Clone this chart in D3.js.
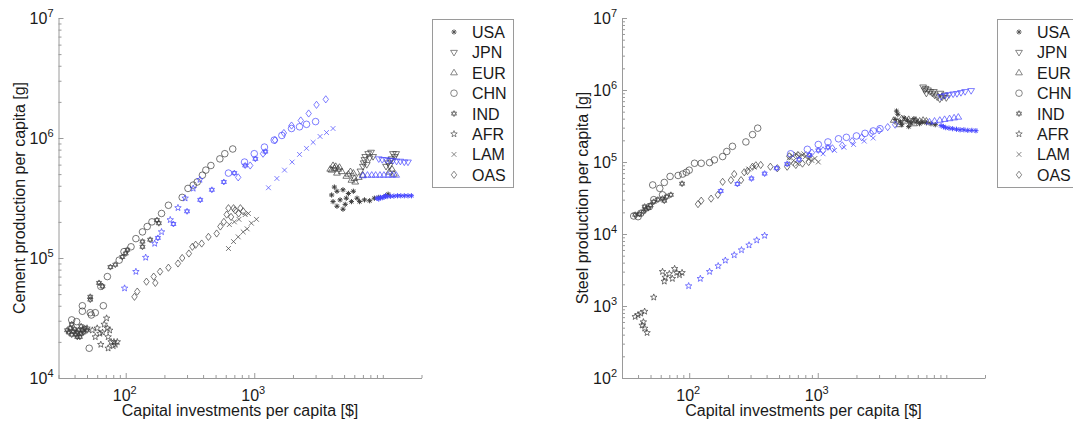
<!DOCTYPE html>
<html>
<head>
<meta charset="utf-8">
<script src="https://cdn.jsdelivr.net/npm/d3@7"></script>
<style>
  html, body { margin: 0; padding: 0; background: #fff; }
  svg { display: block; font-family: "Liberation Sans", Arial, sans-serif; }
</style>
</head>
<body>
<svg id="chart" width="1073" height="425"></svg>
<script>
// ---------------- DATA ----------------
const regions = ["USA", "JPN", "EUR", "CHN", "IND", "AFR", "LAM", "OAS"];
const xTitle = "Capital investments per capita [$]";
const cementTitle = "Cement production per capita [g]";
const steelTitle = "Steel production per capita [g]";
const xDomain = [30, 20000];
const xTickLabels = [100, 1000];
const cementYDomain = [1e4, 1e7];
const steelYDomain = [1e2, 1e7];

// Cement: historical (black) and projected (blue), [investment $, production g]
const cementUSA = [[4000,3.35e5],[4400,3.6e5],[4900,3.7e5],[5400,3.45e5],[5900,3.6e5],[4100,2.95e5],[4650,3.05e5],[5200,3.15e5],[5700,2.95e5],[4900,2.55e5],[4400,2.7e5],[4200,3.9e5],[5100,2.8e5],[6300,3.15e5],[6600,2.95e5],[7200,3.05e5],[7900,3.0e5],[8600,3.15e5],[9300,3.2e5],[11000,3.4e5],[10500,3.3e5]];
const cementUSAproj = [[9000,3.15e5],[9300,3.1e5],[9600,3.2e5],[9900,3.18e5],[10200,3.22e5],[10500,3.3e5],[10800,3.25e5],[11500,3.27e5],[12200,3.28e5],[13000,3.3e5],[13800,3.3e5],[14700,3.3e5],[15700,3.3e5],[16700,3.3e5]];
const cementJPN = [[6700,5.3e5],[7000,5.8e5],[7100,6.2e5],[7200,6.6e5],[7300,7.0e5],[7700,7.4e5],[8100,7.6e5],[8400,7.0e5],[7900,6.8e5],[7500,6.0e5],[10600,5.8e5],[11000,6.2e5],[11300,5.9e5],[11700,6.7e5],[12000,7.4e5],[12700,7.4e5],[12400,7.0e5],[11500,6.5e5]];
const cementJPNproj = [[9300,6.7e5],[9900,6.6e5],[10600,6.6e5],[11300,6.5e5],[12000,6.5e5],[12800,6.4e5],[13700,6.4e5],[14700,6.3e5],[15700,6.3e5]];
const cementEUR = [[3900,5.5e5],[4000,5.4e5],[4100,5.9e5],[4200,5.6e5],[4300,5.8e5],[4400,5.1e5],[4500,5.5e5],[4600,5.7e5],[4800,5.25e5],[5200,4.8e5],[5400,5.0e5],[5600,5.25e5],[5700,4.45e5],[5900,5.1e5],[6100,4.3e5],[6000,4.6e5],[6500,4.7e5],[7000,4.9e5],[11200,5.2e5],[11800,5.5e5],[12200,5.0e5]];
const cementEURproj = [[7000,4.85e5],[7600,4.9e5],[8200,4.9e5],[8800,4.9e5],[9500,4.9e5],[10200,4.9e5],[11000,4.9e5],[11800,4.9e5],[12700,4.9e5]];
const cementCHN = [[680,8.1e5],[590,7.4e5],[540,6.7e5],[460,5.9e5],[420,5.4e5],[395,4.9e5],[360,4.3e5],[335,4.05e5],[305,3.8e5],[275,3.2e5],[215,2.75e5],[190,2.35e5],[160,2.0e5],[147,1.83e5],[135,1.65e5],[120,1.45e5],[110,1.24e5],[97,1.13e5],[89,9.6e4],[72,7.0e4],[64,5.8e4],[67,4.0e4],[58,3.5e4],[53,3.5e4],[52,1.77e4],[46,4.0e4],[46,3.6e4],[54,3.35e4],[41.5,2.95e4],[38,3.05e4]];
const cementCHNproj = [[630,5.1e5],[840,6.3e5],[1000,7.4e5],[1200,8.4e5],[1430,9.6e5],[1640,1.05e6],[1950,1.2e6],[2250,1.24e6],[2550,1.3e6],[3000,1.37e6]];
const cementIND = [[35,2.5e4],[36,2.4e4],[37,2.6e4],[38,2.3e4],[39,2.45e4],[40,2.55e4],[41,2.3e4],[42,2.4e4],[43,2.5e4],[44,2.2e4],[45,2.35e4],[46,2.5e4],[47,2.4e4],[48,2.6e4],[50,2.5e4],[45,2.7e4],[38,2.8e4],[42,2.2e4],[53,4.75e4],[53,4.5e4],[62,6.2e4],[66,5.8e4],[76,8.4e4],[83,8.8e4],[94,1.02e5],[100,1.09e5],[103,1.17e5],[135,1.24e5],[135,1.37e5],[155,1.42e5],[175,2.07e5],[181,1.95e5]];
const cementINDproj = [[178,1.47e5],[235,1.92e5],[300,2.45e5],[380,3.05e5],[468,3.7e5],[580,4.3e5],[700,5.1e5],[850,5.9e5],[1020,6.7e5],[1220,7.7e5]];
const cementAFR = [[71,3.15e4],[72,2.6e4],[63,2.35e4],[73,2.2e4],[64,1.9e4],[73,1.77e4],[77,2.0e4],[81,2.0e4],[68,2.8e4],[60,2.6e4],[55,2.5e4],[86,2.0e4],[80,1.85e4],[66,2.4e4],[58,2.2e4],[75,2.5e4],[83,1.9e4],[50,2.6e4]];
const cementAFRproj = [[98,5.6e4],[120,7.7e4],[143,1.01e5],[168,1.32e5],[190,1.65e5],[222,2.08e5],[255,2.62e5],[290,3.15e5],[335,3.8e5],[378,4.5e5]];
const cementLAM = [[630,1.2e5],[690,1.37e5],[750,1.5e5],[820,1.65e5],[880,1.75e5],[950,1.95e5],[1040,2.1e5],[640,1.9e5],[700,2.0e5],[760,2.1e5],[850,2.3e5],[900,2.35e5]];
const cementLAMproj = [[1290,3.85e5],[1500,4.6e5],[1720,5.4e5],[1970,6.3e5],[2250,7.3e5],[2550,8.2e5],[2870,9.2e5],[3250,1.03e6],[3650,1.11e6],[4100,1.2e6]];
const cementOAS = [[117,4.75e4],[123,5.25e4],[145,6.35e4],[165,7.0e4],[170,6.2e4],[185,7.7e4],[215,8.3e4],[255,9.0e4],[275,1.0e5],[310,1.09e5],[330,1.24e5],[350,1.29e5],[390,1.32e5],[440,1.5e5],[510,1.6e5],[545,1.83e5],[580,2.0e5],[610,2.3e5],[630,2.6e5],[710,2.5e5],[755,2.35e5],[820,2.45e5],[660,2.2e5],[690,2.6e5],[780,2.6e5]];
const cementOASproj = [[750,4.7e5],[930,5.9e5],[1170,7.4e5],[1450,9.6e5],[1700,1.1e6],[1950,1.27e6],[2300,1.4e6],[2650,1.6e6],[3050,1.89e6],[3600,2.1e6]];

// Steel: historical (black) and projected (blue)
const steelUSA = [[4100,5.1e5],[4200,4.6e5],[4000,3.9e5],[4400,3.6e5],[4700,4.1e5],[5000,3.8e5],[5300,3.5e5],[5600,4.0e5],[5900,3.7e5],[6200,3.4e5],[4500,3.3e5],[5100,3.1e5],[6500,3.6e5],[7000,3.5e5],[7600,3.4e5],[8200,3.3e5]];
const steelUSAproj = [[9100,3.2e5],[9500,3.1e5],[9900,3.0e5],[10500,2.95e5],[11200,2.9e5],[12000,2.85e5],[12800,2.8e5],[13700,2.8e5],[14700,2.75e5],[15800,2.75e5],[17000,2.72e5]];
const steelJPN = [[6600,1.1e6],[6900,1.05e6],[7200,1.0e6],[7500,9.5e5],[7800,9.0e5],[8100,8.5e5],[8500,8.0e5],[8900,7.5e5],[9300,8.0e5],[9700,8.5e5],[7000,9.0e5],[8000,9.5e5],[6800,1.0e6],[9000,9.0e5],[10000,7.8e5]];
const steelJPNproj = [[9100,8.1e5],[9800,8.4e5],[10500,8.6e5],[11300,8.8e5],[12100,8.9e5],[13000,9.2e5],[14000,9.5e5],[15600,9.8e5]];
const steelEUR = [[3900,3.8e5],[4200,3.6e5],[4500,4.0e5],[4800,3.7e5],[5100,3.9e5],[5400,3.6e5],[5800,3.8e5],[6200,3.7e5],[6600,3.8e5],[7000,3.7e5],[4300,3.3e5],[5600,3.4e5]];
const steelEURproj = [[7400,3.6e5],[8100,3.7e5],[8900,3.8e5],[9700,3.9e5],[10600,4.0e5],[11500,4.1e5],[12400,4.2e5]];
const steelCHN = [[37,1.78e4],[40,1.74e4],[42,1.94e4],[49,2.4e4],[53,3.0e4],[62,3.5e4],[52,4.8e4],[59,4.3e4],[64,5.2e4],[71,6.3e4],[82,6.5e4],[89,6.8e4],[95,7.2e4],[100,7.7e4],[110,9.6e4],[124,9.6e4],[144,9.8e4],[157,1.07e5],[182,1.19e5],[196,1.4e5],[217,1.65e5],[276,1.9e5],[311,2.4e5],[341,2.95e5]];
const steelCHNproj = [[615,1.3e5],[830,1.5e5],[1010,1.75e5],[1200,1.9e5],[1450,2.1e5],[1670,2.2e5],[2000,2.3e5],[2330,2.5e5],[2700,2.7e5],[3050,2.9e5]];
const steelIND = [[38,1.85e4],[41,1.9e4],[44,2.05e4],[45,2.4e4],[46,2.2e4],[48,2.3e4],[50,2.5e4],[53,2.8e4],[57,3.0e4],[62,3.1e4],[64,2.9e4],[67,3.3e4],[72,3.5e4],[88,5.0e4]];
const steelINDproj = [[176,3.96e4],[237,4.95e4],[305,5.9e4],[386,6.9e4],[478,8.2e4],[578,9.4e4],[715,1.08e5],[860,1.25e5],[1010,1.45e5],[1200,1.6e5]];
const steelAFR = [[38,710],[40,750],[42,790],[45,840],[44,600],[43,540],[45,490],[47,425],[53,1320],[62,3000],[64,2200],[65,2500],[70,2800],[74,2400],[77,3300],[80,2900],[84,2700],[88,2900]];
const steelAFRproj = [[99,1900],[122,2400],[144,3000],[168,3600],[191,4300],[224,5100],[255,6000],[292,7000],[335,8200],[386,9500]];
const steelLAM = [[290,8.0e4],[320,8.5e4],[600,1.15e5],[620,9.5e4],[640,1.22e5],[650,1.05e5],[680,1.28e5],[700,9.5e4],[720,1.2e5],[760,1.25e5],[780,1.3e5],[800,1.18e5],[850,1.1e5],[870,1.2e5],[900,1.05e5],[950,1.12e5],[1010,1.0e5]];
const steelLAMproj = [[1100,1.3e5],[1350,1.45e5],[1600,1.6e5],[1900,1.75e5],[2300,1.95e5],[2700,2.15e5]];
const steelOAS = [[117,2.6e4],[124,2.9e4],[148,3.1e4],[167,3.5e4],[182,5.3e4],[211,5.6e4],[224,6.8e4],[253,5.6e4],[268,7.2e4],[284,7.5e4],[311,8.6e4],[330,9.0e4],[360,9.1e4],[428,8.6e4],[485,8.2e4],[578,8.6e4],[600,1.2e5],[675,9.1e4],[700,1.25e5],[760,9.5e4],[850,1.0e5]];
const steelOASproj = [[900,1.35e5],[1100,1.45e5],[1300,1.55e5],[1550,1.7e5],[1850,1.95e5],[2200,2.2e5],[2600,2.5e5],[3000,2.75e5],[3500,3.05e5],[4000,3.3e5]];

// ---------------- STYLE ----------------
const BLACK = "#3c3c3c";
const BLUE = "#4646ff";
const AXIS = "#9a9a9a";
const markerShape = { USA: "asterisk", JPN: "triDown", EUR: "triUp", CHN: "circle", IND: "hexagram", AFR: "pentagram", LAM: "x", OAS: "diamond" };

function markerPath(shape) {
  switch (shape) {
    case "asterisk": { const r = 2.6, d = r * 0.7;
      return `M0,${-r}L0,${r}M${-r},0L${r},0M${-d},${-d}L${d},${d}M${-d},${d}L${d},${-d}`; }
    case "triDown": { const r = 3.4; return `M${-r},${-r*0.6}L${r},${-r*0.6}L0,${r*1.05}Z`; }
    case "triUp": { const r = 3.4; return `M${-r},${r*0.6}L${r},${r*0.6}L0,${-r*1.05}Z`; }
    case "circle": { const r = 3.3; return `M${r},0A${r},${r} 0 1,1 ${-r},0A${r},${r} 0 1,1 ${r},0Z`; }
    case "hexagram": { const r = 3.0; let p = "";
      for (const off of [-90, 90]) {
        const pts = [0, 120, 240].map(a => { const t = (a + off) * Math.PI / 180; return [r*Math.cos(t), r*Math.sin(t)]; });
        p += `M${pts[0][0]},${pts[0][1]}L${pts[1][0]},${pts[1][1]}L${pts[2][0]},${pts[2][1]}Z`;
      }
      return p; }
    case "pentagram": { const r = 3.4, ri = r * 0.42; const pts = [];
      for (let i = 0; i < 10; i++) { const t = (-90 + i * 36) * Math.PI / 180; const rr = i % 2 ? ri : r; pts.push([rr*Math.cos(t), rr*Math.sin(t)]); }
      return "M" + pts.map(q => q.join(",")).join("L") + "Z"; }
    case "x": { const r = 2.4; return `M${-r},${-r}L${r},${r}M${-r},${r}L${r},${-r}`; }
    case "diamond": { const w = 2.7, h = 3.6; return `M0,${-h}L${w},0L0,${h}L${-w},0Z`; }
  }
}

const svg = d3.select("#chart");
svg.append("rect").attr("width", 1073).attr("height", 425).attr("fill", "#fff");

function logTicks(domain) {
  const out = [];
  const e0 = Math.floor(Math.log10(domain[0])), e1 = Math.ceil(Math.log10(domain[1]));
  for (let e = e0; e <= e1; e++) for (let m = 1; m <= 9; m++) {
    const v = m * Math.pow(10, e);
    if (v >= domain[0] * 0.999 && v <= domain[1] * 1.001) out.push(v);
  }
  return out;
}
const isMajor = v => Math.abs(Math.log10(v) - Math.round(Math.log10(v))) < 1e-9;

function powLabel(sel, v) {
  const e = Math.round(Math.log10(v));
  sel.append("tspan").text("10");
  sel.append("tspan").attr("dy", -7).attr("font-size", 11).text(String(e));
}

function drawPanel(cfg) {
  const x = d3.scaleLog().domain(xDomain).range(cfg.xRange);
  const y = d3.scaleLog().domain(cfg.yDomain).range([378, 18]);
  const g = svg.append("g");

  // X axis
  const xa = g.append("g").attr("transform", `translate(0,${y.range()[0]})`)
    .call(d3.axisBottom(x).tickValues(logTicks(xDomain)).tickSizeInner(-3).tickSizeOuter(0).tickFormat(""));
  xa.select(".domain").attr("stroke", AXIS);
  xa.selectAll(".tick line").attr("stroke", AXIS).attr("y2", d => xTickLabels.includes(d) ? -5 : -3);
  xTickLabels.forEach(v => {
    const t = g.append("text").attr("x", x(v) - 1).attr("y", 401).attr("text-anchor", "middle")
      .attr("font-size", 16).attr("fill", "#1a1a1a");
    powLabel(t, v);
  });

  // Y axis
  const ya = g.append("g").attr("transform", `translate(${x.range()[0]},0)`)
    .call(d3.axisLeft(y).tickValues(logTicks(cfg.yDomain)).tickSizeInner(-3).tickSizeOuter(0).tickFormat(""));
  ya.select(".domain").attr("stroke", AXIS);
  ya.selectAll(".tick line").attr("stroke", AXIS).attr("x2", d => isMajor(d) ? 5 : 3);
  logTicks(cfg.yDomain).filter(isMajor).forEach(v => {
    const t = g.append("text").attr("x", x.range()[0] - 5).attr("y", y(v) + 6).attr("text-anchor", "end")
      .attr("font-size", 16).attr("fill", "#1a1a1a");
    powLabel(t, v);
  });

  // titles
  g.append("text").attr("x", (x.range()[0] + x.range()[1]) / 2).attr("y", 416)
    .attr("text-anchor", "middle").attr("font-size", 16).attr("fill", "#1a1a1a").text(xTitle);
  g.append("text").attr("transform", `translate(${cfg.yTitleX},198) rotate(-90)`)
    .attr("text-anchor", "middle").attr("dominant-baseline", "central")
    .attr("font-size", 16).attr("fill", "#1a1a1a").text(cfg.yTitle);

  // markers: historical first, projections on top
  const layers = [["hist", BLACK], ["proj", BLUE]];
  layers.forEach(([key, color]) => {
    cfg.series.forEach(s => {
      const shape = markerShape[s.name];
      g.append("g").selectAll("path").data(s[key]).join("path")
        .attr("transform", d => `translate(${x(d[0])},${y(d[1])})`)
        .attr("d", markerPath(shape))
        .attr("fill", "none").attr("stroke", color)
        .attr("stroke-width", shape === "asterisk" ? 1.0 : 0.7);
    });
  });

  // legend
  const lg = g.append("g");
  lg.append("rect").attr("x", cfg.legendX + 0.5).attr("y", 19.5).attr("width", 81).attr("height", 168)
    .attr("fill", "#fff").attr("stroke", AXIS).attr("stroke-width", 1);
  regions.forEach((r, i) => {
    const cy = 32 + i * 20.4;
    lg.append("path").attr("transform", `translate(${cfg.legendX + 22},${cy})`)
      .attr("d", markerPath(markerShape[r])).attr("fill", "none").attr("stroke", "#555")
      .attr("stroke-width", markerShape[r] === "asterisk" ? 1.0 : 0.7);
    lg.append("text").attr("x", cfg.legendX + 40).attr("y", cy + 6)
      .attr("font-size", 16).attr("fill", "#1a1a1a").text(r);
  });
}

const cementSeries = [
  { name: "USA", hist: cementUSA, proj: cementUSAproj },
  { name: "JPN", hist: cementJPN, proj: cementJPNproj },
  { name: "EUR", hist: cementEUR, proj: cementEURproj },
  { name: "CHN", hist: cementCHN, proj: cementCHNproj },
  { name: "IND", hist: cementIND, proj: cementINDproj },
  { name: "AFR", hist: cementAFR, proj: cementAFRproj },
  { name: "LAM", hist: cementLAM, proj: cementLAMproj },
  { name: "OAS", hist: cementOAS, proj: cementOASproj }
];
const steelSeries = [
  { name: "USA", hist: steelUSA, proj: steelUSAproj },
  { name: "JPN", hist: steelJPN, proj: steelJPNproj },
  { name: "EUR", hist: steelEUR, proj: steelEURproj },
  { name: "CHN", hist: steelCHN, proj: steelCHNproj },
  { name: "IND", hist: steelIND, proj: steelINDproj },
  { name: "AFR", hist: steelAFR, proj: steelAFRproj },
  { name: "LAM", hist: steelLAM, proj: steelLAMproj },
  { name: "OAS", hist: steelOAS, proj: steelOASproj }
];

drawPanel({ xRange: [58.5, 421.5], yDomain: cementYDomain, series: cementSeries, yTitle: cementTitle, yTitleX: 19, legendX: 432 });
drawPanel({ xRange: [622, 985], yDomain: steelYDomain, series: steelSeries, yTitle: steelTitle, yTitleX: 582, legendX: 997 });
</script>
</body>
</html>
